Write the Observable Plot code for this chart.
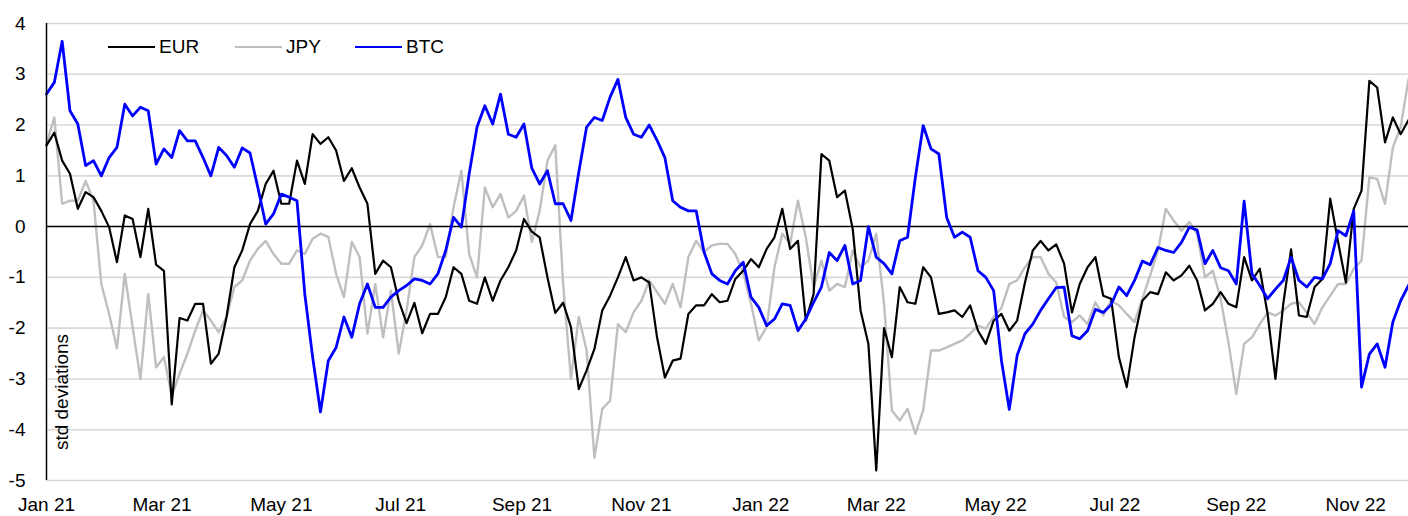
<!DOCTYPE html>
<html><head><meta charset="utf-8">
<script src="https://cdn.jsdelivr.net/npm/d3@7"></script>
<script src="https://cdn.jsdelivr.net/npm/@observablehq/plot@0.6"></script>
<style>
html,body{margin:0;padding:0;background:#fff;}
#wrap{position:relative;width:1408px;height:516px;font-family:"Liberation Sans Narrow","Liberation Sans",Arial,sans-serif;color:#000;}
.leg{position:absolute;top:36px;display:flex;align-items:center;font-size:19px;}
.leg span.sw{display:inline-block;width:47px;height:2px;margin-right:4px;}
#ylab{position:absolute;left:62px;top:392px;transform:translate(-50%,-50%) rotate(-90deg);font-size:19px;white-space:nowrap;}
</style></head><body><div id="wrap"></div>
<script>
const startDate = Date.UTC(2021, 0, 1);
const stepDays = 4;
const seriesNames = ["EUR", "JPY", "BTC"];
const seriesColors = ["#000000", "#bfbfbf", "#0000ff"];
const yTicks = [-5, -4, -3, -2, -1, 0, 1, 2, 3, 4];
const xTickDates = ["2021-01-01","2021-03-01","2021-05-01","2021-07-01","2021-09-01","2021-11-01","2022-01-01","2022-03-01","2022-05-01","2022-07-01","2022-09-01","2022-11-01"];
const xTickLabels = ["Jan 21","Mar 21","May 21","Jul 21","Sep 21","Nov 21","Jan 22","Mar 22","May 22","Jul 22","Sep 22","Nov 22"];

const eur = [
1.6, 1.85, 1.3, 1.04, 0.35, 0.68, 0.58, 0.31, -0.01, -0.7,
0.22, 0.15, -0.6, 0.35, -0.75, -0.87, -3.5, -1.8, -1.85, -1.52,
-1.52, -2.7, -2.5, -1.78, -0.8, -0.47, 0.05, 0.31, 0.84, 1.1,
0.45, 0.45, 1.3, 0.84, 1.82, 1.63, 1.76, 1.5, 0.9, 1.15,
0.77, 0.45, -0.93, -0.67, -0.8, -1.46, -1.9, -1.5, -2.1, -1.72,
-1.72, -1.39, -0.8, -0.93, -1.46, -1.52, -1.0, -1.46, -1.06, -0.8,
-0.47, 0.15, -0.1, -0.21, -1.0, -1.7, -1.5, -1.98, -3.2, -2.83,
-2.41, -1.65, -1.36, -1.0, -0.6, -1.06, -1.0, -1.1, -2.18, -2.97,
-2.64, -2.6, -1.72, -1.55, -1.55, -1.33, -1.49, -1.46, -1.03, -0.87,
-0.64, -0.8, -0.44, -0.21, 0.35, -0.44, -0.28, -1.85, -1.33, 1.43,
1.3, 0.58, 0.71, -0.05, -1.65, -2.31, -4.8, -2.0, -2.57, -1.19,
-1.49, -1.52, -0.8, -1.0, -1.72, -1.69, -1.65, -1.78, -1.55, -2.05,
-2.31, -1.85, -1.72, -2.05, -1.85, -1.1, -0.47, -0.28, -0.47, -0.35,
-0.73, -1.69, -1.13, -0.8, -0.6, -1.36, -1.42, -2.57, -3.16, -2.18,
-1.46, -1.29, -1.33, -0.9, -1.06, -0.96, -0.77, -1.06, -1.65, -1.52,
-1.29, -1.52, -1.59, -0.6, -1.06, -0.83, -1.72, -3.0, -1.52, -0.45,
-1.75, -1.78, -1.19, -1.03, 0.55, -0.3, -1.1, 0.35, 0.71, 2.87,
2.74, 1.66, 2.15, 1.82, 2.1
];
const jpy = [
1.63, 2.15, 0.45, 0.51, 0.51, 0.9, 0.51, -1.13, -1.72, -2.4,
-0.93, -1.98, -3.0, -1.33, -2.77, -2.57, -3.33, -2.9, -2.5, -2.05,
-1.65, -1.85, -2.08, -1.78, -1.19, -1.06, -0.67, -0.44, -0.28, -0.54,
-0.73, -0.73, -0.47, -0.54, -0.24, -0.14, -0.2, -0.93, -1.39, -0.3,
-0.6, -2.11, -1.13, -2.18, -1.26, -2.5, -1.65, -0.6, -0.37, 0.05,
-0.6, -0.6, 0.38, 1.1, -0.54, -1.0, 0.77, 0.38, 0.64, 0.18,
0.31, 0.61, -0.3, 0.31, 1.3, 1.6, -1.13, -3.0, -1.78, -2.44,
-4.55, -3.59, -3.43, -1.92, -2.08, -1.69, -1.46, -1.06, -1.29, -1.52,
-1.13, -1.59, -0.6, -0.28, -0.5, -0.37, -0.34, -0.34, -0.54, -0.9,
-1.52, -2.24, -1.98, -0.8, -0.14, -0.34, 0.51, -0.21, -1.19, -0.67,
-1.26, -1.13, -1.19, -0.47, -0.8, -0.67, -0.14, -1.52, -3.62, -3.82,
-3.59, -4.08, -3.62, -2.44, -2.44, -2.38, -2.31, -2.24, -2.11, -1.95,
-2.01, -1.78, -1.6, -1.13, -1.06, -0.8, -0.6, -0.6, -0.93, -1.1,
-1.78, -1.88, -1.75, -1.92, -1.49, -1.75, -1.46, -1.55, -1.72, -1.88,
-1.42, -0.96, -0.47, 0.35, 0.12, -0.08, 0.09, -0.14, -1.0, -0.87,
-1.42, -2.28, -3.3, -2.31, -2.18, -1.92, -1.69, -1.75, -1.65, -1.52,
-1.49, -1.69, -1.92, -1.59, -1.36, -1.13, -1.13, -0.83, -0.67, 0.97,
0.94, 0.45, 1.56, 1.96, 2.9
];
const btc = [
2.61, 2.84, 3.65, 2.28, 2.02, 1.2, 1.3, 1.0, 1.36, 1.56,
2.41, 2.18, 2.35, 2.28, 1.23, 1.53, 1.36, 1.89, 1.69, 1.69,
1.36, 1.0, 1.56, 1.4, 1.17, 1.55, 1.45, 0.77, 0.05, 0.25,
0.64, 0.58, 0.51, -1.33, -2.57, -3.65, -2.64, -2.38, -1.78, -2.18,
-1.52, -1.13, -1.59, -1.59, -1.39, -1.26, -1.16, -1.03, -1.06, -1.13,
-0.93, -0.47, 0.18, -0.01, 1.04, 1.96, 2.38, 2.02, 2.61, 1.82,
1.76, 2.02, 1.15, 0.84, 1.1, 0.45, 0.45, 0.12, 1.07, 1.96,
2.15, 2.09, 2.55, 2.9, 2.15, 1.82, 1.76, 2.0, 1.7, 1.36,
0.51, 0.38, 0.31, 0.31, -0.5, -0.93, -1.06, -1.13, -0.87, -0.7,
-1.39, -1.59, -1.95, -1.82, -1.52, -1.55, -2.05, -1.82, -1.49, -1.19,
-0.51, -0.67, -0.37, -1.13, -1.06, 0.0, -0.6, -0.73, -0.93, -0.28,
-0.21, 0.97, 1.99, 1.53, 1.43, 0.18, -0.21, -0.11, -0.21, -0.87,
-1.0, -1.26, -2.64, -3.6, -2.54, -2.11, -1.92, -1.65, -1.42, -1.2,
-1.19, -2.15, -2.21, -2.05, -1.63, -1.69, -1.54, -1.19, -1.36, -1.06,
-0.68, -0.75, -0.41, -0.47, -0.51, -0.31, -0.01, -0.07, -0.73, -0.47,
-0.81, -0.87, -1.13, 0.5, -0.93, -1.16, -1.42, -1.23, -1.06, -0.6,
-1.06, -1.19, -1.0, -1.03, -0.73, -0.08, -0.18, 0.31, -3.16, -2.51,
-2.31, -2.77, -1.88, -1.46, -1.16
];

const dates = eur.map((_, i) => new Date(startDate + i * stepDays * 86400000));
const seriesValues = [eur, jpy, btc];
const rows = seriesNames.map((name, s) => seriesValues[s].map((v, i) => ({series: name, date: dates[i], value: v})));
const tickDates = xTickDates.map(s => new Date(s + "T00:00:00Z"));
const labelOf = new Map(tickDates.map((d, i) => [+d, xTickLabels[i]]));
const FONT = '"Liberation Sans Narrow","Liberation Sans",Arial,sans-serif';

const chart = Plot.plot({
  width: 1408, height: 516,
  marginLeft: 46, marginRight: 0, marginTop: 23, marginBottom: 36,
  style: {fontFamily: FONT, fontSize: "19px", color: "#000", background: "#fff"},
  x: {type: "utc", domain: [dates[0], dates[dates.length - 1]]},
  y: {domain: [-5, 4]},
  marks: [
    Plot.ruleY(yTicks.filter(v => v !== 0), {stroke: "#d9d9d9", strokeWidth: 1.6}),
    Plot.axisY({ticks: yTicks, tickSize: 0, tickPadding: 21, tickFormat: d => String(d), label: null, fontSize: 19}),
    Plot.axisX({ticks: tickDates, tickSize: 0, tickPadding: 17, tickFormat: d => labelOf.get(+d), label: null, fontSize: 19}),
    Plot.line(rows[1], {x: "date", y: "value", stroke: seriesColors[1], strokeWidth: 2.4}),
    Plot.line(rows[0], {x: "date", y: "value", stroke: seriesColors[0], strokeWidth: 2.2}),
    Plot.ruleY([0], {stroke: "#000", strokeWidth: 1.5}),
    Plot.line(rows[2], {x: "date", y: "value", stroke: seriesColors[2], strokeWidth: 2.8}),
    Plot.ruleX([dates[0]], {stroke: "#000", strokeWidth: 1.5})
  ]
});
const wrap = document.getElementById("wrap");
wrap.appendChild(chart);

const legLeft = [108, 235, 355];
seriesNames.forEach((name, i) => {
  const d = document.createElement("div");
  d.className = "leg";
  d.style.left = legLeft[i] + "px";
  d.innerHTML = `<span class="sw" style="background:${seriesColors[i]}"></span><span>${name}</span>`;
  wrap.appendChild(d);
});
const yl = document.createElement("div");
yl.id = "ylab";
yl.textContent = "std deviations";
wrap.appendChild(yl);
</script>
</body></html>
